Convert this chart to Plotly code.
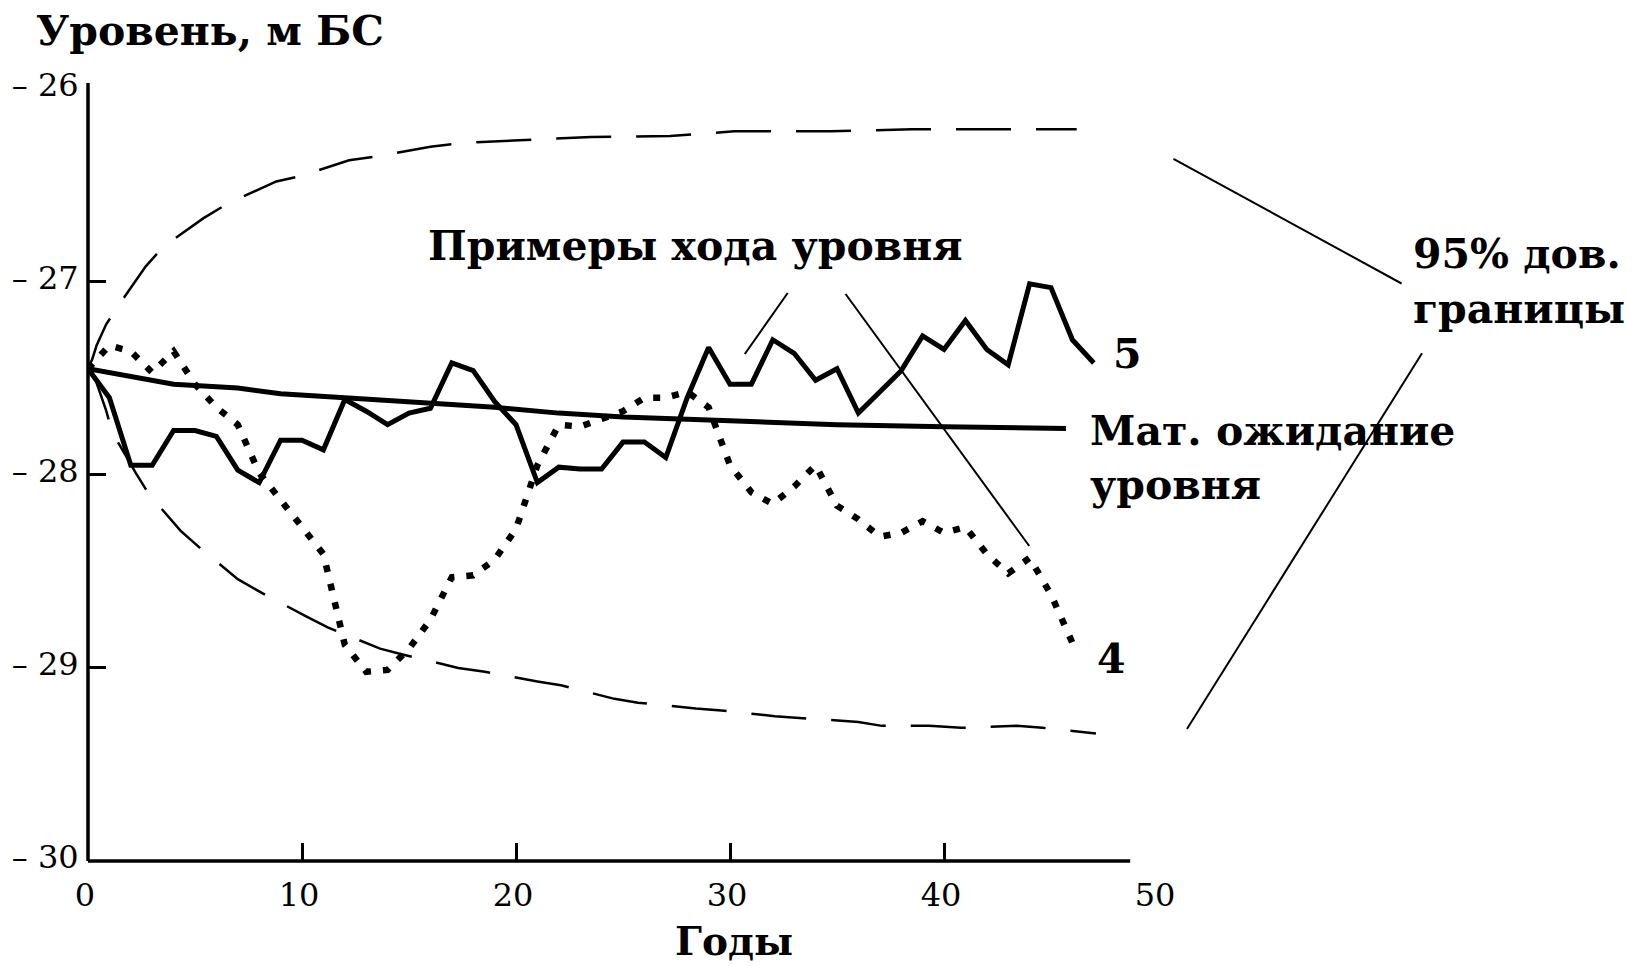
import plotly.graph_objects as go

# Годы прогноза
years_5 = [0, 1, 2, 3, 4, 5, 6, 7, 8, 9, 10, 11, 12, 13, 14, 15, 16, 17, 18, 19,
           20, 21, 22, 23, 24, 25, 26, 27, 28, 29, 30, 31, 32, 33, 34, 35, 36, 37, 38, 39,
           40, 41, 42, 43, 44, 45, 46, 47]
# Пример хода уровня № 5 (м БС)
level_5 = [-27.45, -27.60, -27.95, -27.95, -27.77, -27.77, -27.80, -27.975, -28.04, -27.82,
           -27.82, -27.87, -27.61, -27.67, -27.74, -27.68, -27.655, -27.42, -27.46, -27.62,
           -27.74, -28.04, -27.96, -27.97, -27.97, -27.83, -27.83, -27.91, -27.60, -27.34,
           -27.53, -27.53, -27.30, -27.37, -27.51, -27.45, -27.68, -27.57, -27.46, -27.28,
           -27.35, -27.20, -27.35, -27.43, -27.01, -27.03, -27.30, -27.42]

years_4 = [0, 1, 2, 3, 4, 5, 6, 7, 8, 9, 10, 11, 12, 13, 14, 15, 16, 17, 18, 19,
           20, 21, 22, 23, 24, 25, 26, 27, 28, 29, 30, 31, 32, 33, 34, 35, 36, 37, 38, 39,
           40, 41, 42, 43, 44, 45, 46]
# Пример хода уровня № 4 (м БС)
level_4 = [-27.45, -27.33, -27.36, -27.47, -27.36, -27.53, -27.65, -27.74, -27.99, -28.13,
           -28.28, -28.41, -28.88, -29.02, -29.01, -28.90, -28.75, -28.53, -28.52, -28.44,
           -28.28, -27.95, -27.74, -27.75, -27.71, -27.67, -27.60, -27.60, -27.57, -27.65,
           -27.95, -28.09, -28.15, -28.06, -27.95, -28.16, -28.23, -28.32, -28.30, -28.24,
           -28.30, -28.27, -28.41, -28.51, -28.43, -28.62, -28.87]

# Математическое ожидание уровня
mean_years = [0, 2, 4, 7, 9, 12, 15, 19, 22, 25, 30, 35, 40, 45.7]
mean_level = [-27.45, -27.49, -27.53, -27.55, -27.58, -27.60, -27.62, -27.65, -27.68,
              -27.70, -27.72, -27.74, -27.75, -27.76]

# Верхняя 95% доверительная граница
upper_years = [0, 0.2, 0.4, 0.85, 1.5, 2.7, 3.5, 5.4, 6.6, 8.8, 10.0, 12.2, 13.5, 16.0,
               17.5, 19.7, 23.5, 27.2, 30.2, 34.7, 38.5, 46.2]
upper_level = [-27.45, -27.40, -27.33, -27.22, -27.11, -26.92, -26.82, -26.67, -26.59,
               -26.48, -26.45, -26.37, -26.35, -26.30, -26.28, -26.27, -26.25, -26.245,
               -26.22, -26.22, -26.21, -26.21]

# Нижняя 95% доверительная граница
lower_years = [0, 0.36, 0.83, 1.14, 2.23, 2.85, 4.33, 5.25, 7.0, 8.1, 10.15, 11.2, 13.65,
               14.7, 17.3, 18.55, 21.0, 22.1, 24.6, 25.7, 28.4, 29.6, 32.1, 33.3, 36.0,
               37.1, 39.3, 40.8, 43.4, 44.6, 47.1]
lower_level = [-27.45, -27.51, -27.66, -27.78, -27.99, -28.10, -28.29, -28.38, -28.54,
               -28.61, -28.73, -28.79, -28.90, -28.93, -29.00, -29.02, -29.07, -29.09,
               -29.16, -29.18, -29.21, -29.22, -29.25, -29.26, -29.28, -29.30, -29.30,
               -29.31, -29.30, -29.31, -29.34]

# Подписи осей
x_tick_vals = [0, 10, 20, 30, 40, 50]
x_tick_text = ["0", "10", "20", "30", "40", "50"]
x_mark_vals = [10, 20, 30, 40]
y_tick_vals = [-30, -29, -28, -27, -26]
y_tick_text = ["\u2013 30", "\u2013 29", "\u2013 28", "\u2013 27", "\u2013 26"]
y_mark_vals = [-29, -28, -27]

# Геометрия рисунка
W, H = 1637, 966
ML, MR, MT, MB = 86, 479, 83, 105
X_RANGE = [0, 50]
Y_RANGE = [-30, -25.97]
X_LINE_END = 48.7
FONT = "DejaVu Serif"


def fx(px):
    """Пиксель по горизонтали -> доля области построения."""
    return (px - ML) / (W - ML - MR)


def fy(py):
    """Пиксель по вертикали -> доля области построения."""
    return (H - MB - py) / (H - MT - MB)


fig = go.Figure()

bound_line = dict(color="black", width=2.5, dash="55px,25px")
fig.add_trace(go.Scatter(x=upper_years, y=upper_level, mode="lines", line=bound_line,
                         hoverinfo="skip"))
fig.add_trace(go.Scatter(x=lower_years, y=lower_level, mode="lines", line=bound_line,
                         hoverinfo="skip"))
fig.add_trace(go.Scatter(x=mean_years, y=mean_level, mode="lines",
                         line=dict(color="black", width=5), hoverinfo="skip"))
fig.add_trace(go.Scatter(x=years_4, y=level_4, mode="lines",
                         line=dict(color="black", width=6.5, dash="7px,12px"),
                         hoverinfo="skip"))
fig.add_trace(go.Scatter(x=years_5, y=level_5, mode="lines",
                         line=dict(color="black", width=5), hoverinfo="skip"))

# Оси координат
shapes = [
    dict(type="line", xref="paper", yref="paper", x0=0, x1=0, y0=0, y1=1,
         line=dict(color="black", width=3.5)),
    dict(type="line", xref="paper", yref="paper", x0=0,
         x1=(X_LINE_END - X_RANGE[0]) / (X_RANGE[1] - X_RANGE[0]), y0=0, y1=0,
         line=dict(color="black", width=3.5)),
]

# Выноски от подписей
leaders = [
    ((1173.5, 158.8), (1402.0, 283.5)),
    ((1422.5, 353.3), (1187.0, 729.0)),
    ((787.0, 293.0), (744.0, 354.0)),
    ((845.0, 294.0), (1029.0, 546.0)),
]
for (x0, y0), (x1, y1) in leaders:
    shapes.append(dict(type="line", xref="paper", yref="paper",
                       x0=fx(x0), y0=fy(y0), x1=fx(x1), y1=fy(y1),
                       line=dict(color="black", width=2)))

labels = [
    ("Уровень, м БС", 32, 31, "left", 41),
    ("Примеры хода уровня", 425, 246, "left", 41),
    ("95% дов.", 1411, 254, "left", 41),
    ("границы", 1411, 309, "left", 41),
    ("5", 1111, 354, "left", 41),
    ("Мат. ожидание", 1088, 431, "left", 41),
    ("уровня", 1088, 485, "left", 41),
    ("4", 1095, 659, "left", 41),
    ("Годы", 733, 941, "center", 39),
]
annotations = [
    dict(text=t, x=fx(px), y=fy(py), xref="paper", yref="paper", xanchor=anchor,
         yanchor="middle", showarrow=False,
         font=dict(family=FONT, size=size, color="black", weight="bold"))
    for t, px, py, anchor, size in labels
]

tick_font = dict(family=FONT, size=32, color="black")
fig.update_layout(
    width=W, height=H,
    margin=dict(l=ML, r=MR, t=MT, b=MB, pad=0),
    paper_bgcolor="white", plot_bgcolor="white",
    showlegend=False,
    shapes=shapes,
    annotations=annotations,
    xaxis=dict(range=X_RANGE, showline=False, showgrid=False, zeroline=False,
               tickmode="array", tickvals=x_tick_vals, ticktext=x_tick_text,
               ticks="outside", ticklen=0, tickfont=tick_font,
               ticklabelstandoff=6, ticklabelshift=-3,
               minor=dict(tickmode="array", tickvals=x_mark_vals, ticks="inside",
                          ticklen=18, tickwidth=3, tickcolor="black", showgrid=False)),
    yaxis=dict(range=Y_RANGE, showline=False, showgrid=False, zeroline=False,
               tickmode="array", tickvals=y_tick_vals, ticktext=y_tick_text,
               ticks="outside", ticklen=0, tickfont=tick_font,
               ticklabelstandoff=2, ticklabelshift=-4,
               minor=dict(tickmode="array", tickvals=y_mark_vals, ticks="inside",
                          ticklen=18, tickwidth=3, tickcolor="black", showgrid=False)),
)

fig.write_html("out.html")
